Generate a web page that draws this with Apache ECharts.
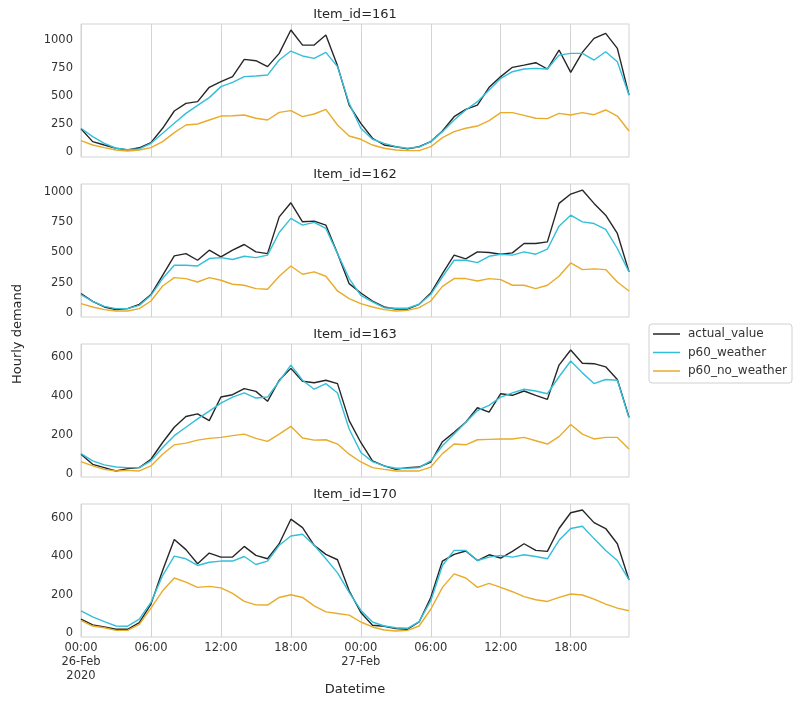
<!DOCTYPE html>
<html>
<head>
<meta charset="utf-8">
<script src="https://cdn.jsdelivr.net/npm/echarts@6/dist/echarts.min.js"></script>
<style>
html,body{margin:0;padding:0;background:#fff;}
#chart{width:800px;height:705px;}
</style>
</head>
<body>
<div id="chart"></div>
<script>
// ---- data (hourly, 2020-02-26 00:00 .. 2020-02-27 23:00) ----
const itemIds = ['161', '162', '163', '170'];
const seriesNames = ['actual_value', 'p60_weather', 'p60_no_weather'];

const actual_161 = [210,95,65,36,21,40,86,214,368,436,451,579,629,674,828,816,763,881,1089,955,955,1045,770,420,258,125,65,50,30,50,95,190,317,383,421,579,674,757,777,798,742,911,712,890,1015,1059,926,510];
const weather_161 = [214,140,80,36,24,30,80,169,258,347,418,487,585,623,674,680,688,822,902,858,837,890,763,436,214,116,80,50,36,47,95,184,288,377,451,555,659,718,742,748,742,866,881,881,822,896,807,510];
const noweather_161 = [104,65,42,21,12,21,42,95,175,243,252,288,323,326,332,303,288,356,371,318,341,383,243,145,116,65,36,21,15,15,50,131,184,214,234,282,353,353,329,303,300,347,332,353,335,377,323,190];

const actual_162 = [160,96,50,28,36,72,152,311,471,490,435,518,463,518,565,504,490,793,909,752,758,725,490,242,165,99,50,33,33,72,165,325,477,446,504,499,485,496,573,573,587,904,981,1014,904,807,656,339];
const weather_162 = [152,96,55,36,36,63,146,284,394,394,388,449,457,441,468,457,477,664,780,725,747,697,490,284,146,91,44,39,39,72,154,298,435,435,416,468,485,477,504,485,526,716,807,752,738,689,532,339];
const noweather_162 = [77,50,28,17,17,36,99,223,292,284,256,292,270,237,229,201,196,303,388,320,339,303,182,118,77,50,28,17,22,44,99,220,284,284,264,284,275,229,229,201,229,303,413,358,364,358,256,182];

const actual_163 = [100,48,31,14,26,31,74,160,238,293,307,272,393,405,436,422,371,479,540,474,466,479,462,272,160,66,40,22,31,34,60,164,212,264,338,316,410,402,424,402,381,557,634,566,564,548,483,290];
const weather_163 = [103,66,45,34,31,31,66,134,195,238,281,321,362,393,414,388,393,474,557,479,433,462,414,229,109,62,40,28,28,31,66,143,203,264,324,350,393,414,433,424,410,497,578,517,462,483,479,286];
const noweather_163 = [62,40,22,14,17,14,40,100,148,157,172,181,186,195,203,181,166,203,243,183,172,174,152,100,60,31,22,14,14,14,34,103,152,148,174,176,178,178,186,169,152,190,252,203,178,186,186,126];

const actual_170 = [71,41,30,18,18,53,150,326,489,436,362,418,397,397,453,406,388,467,596,552,459,411,383,220,106,39,34,21,18,56,185,376,411,429,379,409,392,427,467,432,427,547,630,644,578,547,467,277];
const weather_170 = [115,83,58,35,34,71,159,300,402,388,353,370,376,376,400,358,376,459,508,517,459,388,314,212,118,56,35,26,23,58,168,353,432,432,379,397,406,397,409,400,388,485,547,559,494,432,379,277];
const noweather_170 = [65,35,26,12,12,44,129,220,287,265,238,243,235,206,164,146,145,185,199,185,141,109,101,92,56,30,14,9,12,35,123,238,309,287,238,259,238,215,189,173,164,185,203,198,176,150,129,115];

const yTicks_161 = [0, 250, 500, 750, 1000];
const yTicks_162 = [0, 250, 500, 750, 1000];
const yTicks_163 = [0, 200, 400, 600];
const yTicks_170 = [0, 200, 400, 600];

// time categories
const days = ['2020-02-26', '2020-02-27'];
const times = [];
days.forEach(d => { for (let h = 0; h < 24; h++) times.push(d + ' ' + String(h).padStart(2, '0') + ':00'); });

// ---- build ----
const panels = [
  {id: '161', data: [actual_161, weather_161, noweather_161], ticks: yTicks_161},
  {id: '162', data: [actual_162, weather_162, noweather_162], ticks: yTicks_162},
  {id: '163', data: [actual_163, weather_163, noweather_163], ticks: yTicks_163},
  {id: '170', data: [actual_170, weather_170, noweather_170], ticks: yTicks_170}
];
const colors = ['#262626', '#33bfd9', '#e9ab2a'];
const FONT = 'DejaVu Sans';
const TXT = '#333333';
const GRID_TOPS = [24, 184, 344, 504];
const GRID_H = 133;

const grids = [], xAxes = [], yAxes = [], series = [], graphics = [];
panels.forEach((p, i) => {
  grids.push({left: 81, right: 171, top: GRID_TOPS[i], height: GRID_H, show: true,
    borderColor: '#d3d3d3', borderWidth: 1, backgroundColor: 'transparent'});
  const last = i === panels.length - 1;
  xAxes.push({
    type: 'category', gridIndex: i, data: times, boundaryGap: false,
    axisLine: {show: false}, axisTick: {show: false},
    splitLine: {show: true, interval: (idx) => idx % 6 === 0, lineStyle: {color: '#d3d3d3', width: 1}},
    axisLabel: {
      show: last, interval: (idx) => idx % 6 === 0 && idx < times.length - 1,
      margin: 4, color: TXT, fontFamily: FONT, fontSize: 11.5, lineHeight: 14,
      formatter: (val, idx) => {
        const [d, t] = val.split(' ');
        let s = t;
        if (t === '00:00') {
          const dd = d.split('-');
          const mon = ['Jan','Feb','Mar','Apr','May','Jun','Jul','Aug','Sep','Oct','Nov','Dec'][+dd[1]-1];
          s += '\n' + dd[2] + '-' + mon;
          if (idx === 0) s += '\n' + dd[0];
        }
        return s;
      }
    }
  });
  const all = [].concat(...p.data);
  const mn = Math.min(...all), mx = Math.max(...all);
  const pad = (mx - mn) * 0.05;
  yAxes.push({
    type: 'value', gridIndex: i, min: mn - pad, max: mx + pad,
    axisLine: {show: false}, axisTick: {show: false}, splitLine: {show: false},
    axisLabel: {customValues: p.ticks, margin: 8, color: TXT, fontFamily: FONT, fontSize: 11.5,
      formatter: (v) => String(Math.round(v))}
  });
  p.data.forEach((arr, k) => {
    series.push({
      name: seriesNames[k], type: 'line', xAxisIndex: i, yAxisIndex: i,
      data: arr, symbol: 'none', showSymbol: false, silent: true,
      lineStyle: {color: colors[k], width: 1.4}, itemStyle: {color: colors[k]},
      z: 2 + k
    });
  });
  graphics.push({type: 'text', x: 355, y: GRID_TOPS[i] - 9,
    style: {text: 'Item_id=' + p.id, font: '13px "DejaVu Sans"', fill: '#262626',
      align: 'center', verticalAlign: 'middle', textAlign: 'center', textVerticalAlign: 'middle'}});
});
graphics.push({type: 'text', x: 355, y: 690,
  style: {text: 'Datetime', font: '13px "DejaVu Sans"', fill: '#262626',
    align: 'center', verticalAlign: 'middle', textAlign: 'center', textVerticalAlign: 'middle'}});
graphics.push({type: 'text', x: 18, y: 334, rotation: Math.PI / 2,
  style: {text: 'Hourly demand', font: '13px "DejaVu Sans"', fill: '#262626',
    align: 'center', verticalAlign: 'middle', textAlign: 'center', textVerticalAlign: 'middle'}});

const chart = echarts.init(document.getElementById('chart'), null, {renderer: 'canvas'});
chart.setOption({
  animation: false,
  backgroundColor: '#ffffff',
  grid: grids, xAxis: xAxes, yAxis: yAxes, series: series,
  legend: {
    data: seriesNames, orient: 'vertical', left: 649, top: 324,
    icon: 'rect', itemWidth: 27, itemHeight: 1.5, itemGap: 6.5,
    borderColor: '#d0d0d0', borderWidth: 1, borderRadius: 3,
    padding: [4, 5, 6, 4], selectedMode: false,
    textStyle: {fontFamily: FONT, fontSize: 12, color: TXT, lineHeight: 12, padding: [0, 0, 0, 3]}
  },
  graphic: graphics
});
</script>
</body>
</html>
